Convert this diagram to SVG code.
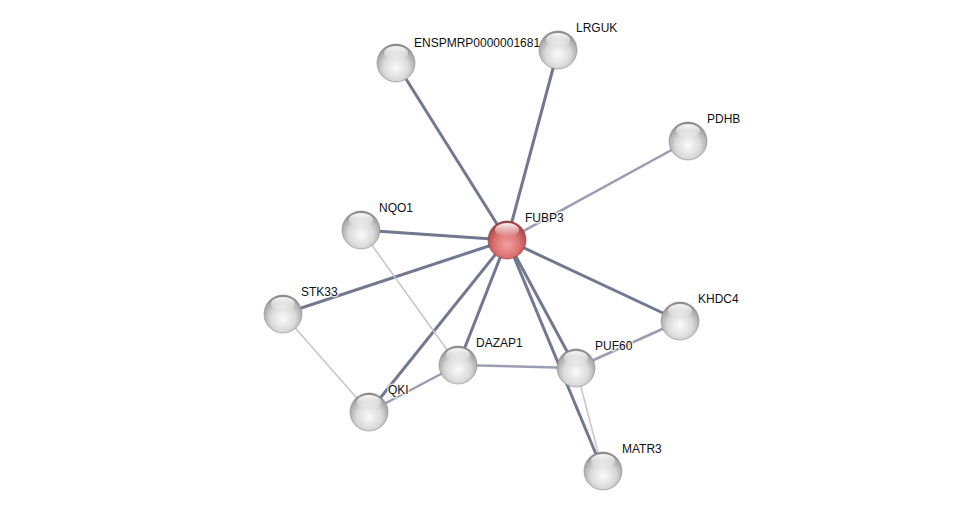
<svg xmlns="http://www.w3.org/2000/svg" width="976" height="516" viewBox="0 0 976 516">
<defs>
<radialGradient id="g" cx="0.5" cy="0.62" r="0.6">
<stop offset="0" stop-color="#fbfbfb"/>
<stop offset="0.55" stop-color="#dadada"/>
<stop offset="0.9" stop-color="#a4a4a4"/>
<stop offset="1" stop-color="#858585"/>
</radialGradient>
<radialGradient id="r" cx="0.5" cy="0.62" r="0.6">
<stop offset="0" stop-color="#f4a0a0"/>
<stop offset="0.55" stop-color="#dc7272"/>
<stop offset="0.9" stop-color="#b04a4a"/>
<stop offset="1" stop-color="#903838"/>
</radialGradient>
<linearGradient id="h" x1="0" y1="0" x2="0" y2="1">
<stop offset="0" stop-color="#ffffff" stop-opacity="0.95"/>
<stop offset="1" stop-color="#ffffff" stop-opacity="0"/>
</linearGradient>
</defs>
<style>
.e1{stroke:#737891;stroke-width:3;fill:none}
.e2{stroke:#9a9db3;stroke-width:2.5;fill:none}
.e3{stroke:#c3c5d2;stroke-width:1.5;fill:none}
.n{fill:url(#g);stroke:#8c8c8c;stroke-width:0.6}
.nr{fill:url(#r);stroke:#8e3a3a;stroke-width:0.6}
.hl{fill:url(#h)}
text{font-family:"Liberation Sans",Arial,sans-serif;font-size:12px;fill:#111;stroke:#fff;stroke-opacity:0.7;stroke-width:3;paint-order:stroke;stroke-linejoin:round}
</style>
<rect width="976" height="516" fill="#fff"/>
<g id="connectors">
<line class="e1" x1="507" y1="240" x2="396" y2="63"/>
<line class="e1" x1="507" y1="240" x2="558" y2="50"/>
<line class="e2" x1="507" y1="240" x2="688" y2="141"/>
<line class="e1" x1="507" y1="240" x2="361" y2="230"/>
<line class="e1" x1="507" y1="240" x2="283" y2="314"/>
<line class="e1" x1="507" y1="240" x2="680" y2="321"/>
<line class="e1" x1="507" y1="240" x2="458" y2="365"/>
<line class="e1" x1="507" y1="240" x2="576" y2="368"/>
<line class="e1" x1="507" y1="240" x2="603" y2="471"/>
<line class="e1" x1="507" y1="240" x2="369" y2="412"/>
<line class="e3" x1="361" y1="230" x2="458" y2="365"/>
<line class="e3" x1="283" y1="314" x2="369" y2="412"/>
<line class="e2" x1="369" y1="412" x2="458" y2="365"/>
<line class="e2" x1="458" y1="365" x2="576" y2="368"/>
<line class="e2" x1="576" y1="368" x2="680" y2="321"/>
<line class="e3" x1="576" y1="368" x2="603" y2="471"/>
</g>
<g id="ENSPMRP0000001681">
<text x="414" y="47">ENSPMRP0000001681</text>
<circle class="n" cx="396" cy="63" r="19"/>
<ellipse class="hl" cx="396" cy="53" rx="12" ry="7"/>
</g>
<g id="LRGUK">
<text x="576" y="32">LRGUK</text>
<circle class="n" cx="558" cy="50" r="19"/>
<ellipse class="hl" cx="558" cy="40" rx="12" ry="7"/>
</g>
<g id="PDHB">
<text x="707" y="123">PDHB</text>
<circle class="n" cx="688" cy="141" r="19"/>
<ellipse class="hl" cx="688" cy="131" rx="12" ry="7"/>
</g>
<g id="NQO1">
<text x="379" y="212">NQO1</text>
<circle class="n" cx="361" cy="230" r="19"/>
<ellipse class="hl" cx="361" cy="220" rx="12" ry="7"/>
</g>
<g id="FUBP3">
<text x="525" y="222">FUBP3</text>
<circle class="nr" cx="507" cy="240" r="19"/>
<ellipse class="hl" cx="507" cy="230" rx="12" ry="7"/>
</g>
<g id="STK33">
<text x="301" y="296">STK33</text>
<circle class="n" cx="283" cy="314" r="19"/>
<ellipse class="hl" cx="283" cy="304" rx="12" ry="7"/>
</g>
<g id="KHDC4">
<text x="698" y="303">KHDC4</text>
<circle class="n" cx="680" cy="321" r="19"/>
<ellipse class="hl" cx="680" cy="311" rx="12" ry="7"/>
</g>
<g id="DAZAP1">
<text x="476" y="347">DAZAP1</text>
<circle class="n" cx="458" cy="365" r="19"/>
<ellipse class="hl" cx="458" cy="355" rx="12" ry="7"/>
</g>
<g id="PUF60">
<text x="595" y="350">PUF60</text>
<circle class="n" cx="576" cy="368" r="19"/>
<ellipse class="hl" cx="576" cy="358" rx="12" ry="7"/>
</g>
<g id="QKI">
<text x="388" y="394">QKI</text>
<circle class="n" cx="369" cy="412" r="19"/>
<ellipse class="hl" cx="369" cy="402" rx="12" ry="7"/>
</g>
<g id="MATR3">
<text x="622" y="453">MATR3</text>
<circle class="n" cx="603" cy="471" r="19"/>
<ellipse class="hl" cx="603" cy="461" rx="12" ry="7"/>
</g>
</svg>
